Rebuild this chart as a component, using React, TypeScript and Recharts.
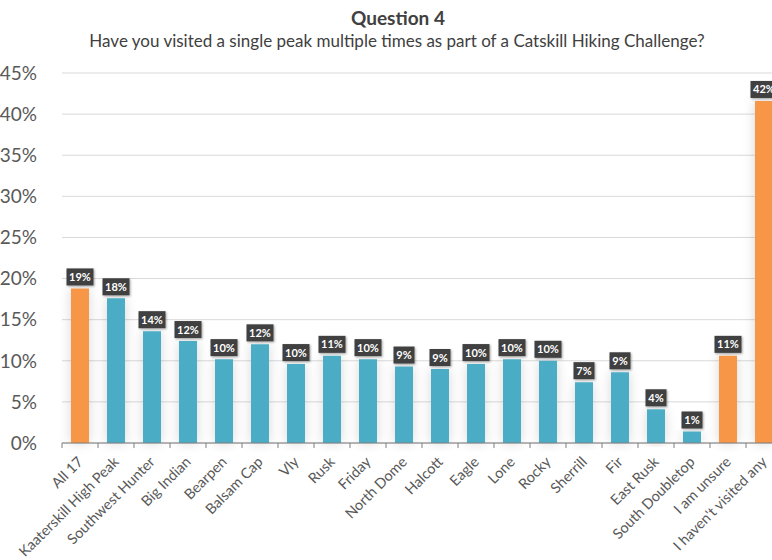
import React from 'react';
import { BarChart, Bar, XAxis, YAxis, CartesianGrid, Cell, LabelList } from 'recharts';

const categories = [
  'All 17', 'Kaaterskill High Peak', 'Southwest Hunter', 'Big Indian', 'Bearpen',
  'Balsam Cap', 'Vly', 'Rusk', 'Friday', 'North Dome', 'Halcott', 'Eagle', 'Lone',
  'Rocky', 'Sherrill', 'Fir', 'East Rusk', 'South Doubletop', 'I am unsure',
  "I haven't visited any",
];
const values = [18.8, 17.6, 13.6, 12.4, 10.2, 12.0, 9.6, 10.6, 10.2, 9.3, 9.0, 9.6, 10.2, 10.0, 7.4, 8.6, 4.1, 1.4, 10.6, 41.6];
const highlighted = ['All 17', 'I am unsure', "I haven't visited any"];
const yTicks = [0, 5, 10, 15, 20, 25, 30, 35, 40, 45];
const title = 'Question 4';
const subtitle = 'Have you visited a single peak multiple times as part of a Catskill Hiking Challenge?';

const data = categories.map((name, i) => ({ name, value: values[i] }));

const FONT = 'Lato, "Open Sans", sans-serif';
const BLUE = '#4BACC6';
const ORANGE = '#F79646';
const CHART_W = 782;
const CHART_H = 560;
const LEFT = 62;
const BAND = (CHART_W - LEFT) / categories.length;

const XTick = (props: any) => {
  const { x, y, payload } = props;
  return (
    <g>
      <line x1={x - BAND / 2} y1={y} x2={x - BAND / 2} y2={y + 5} stroke="#7f7f7f" strokeWidth={1} />
      <g transform={`translate(${x + 1},${y + 17})`}>
        <text x={0} y={0} dy={4} textAnchor="end" transform="rotate(-45)" fill="#595959" fontSize={14.5} fontFamily={FONT}>
          {payload.value}
        </text>
      </g>
    </g>
  );
};

const BoxLabel = (props: any) => {
  const { x, y, width, value } = props;
  const txt = `${Math.round(value)}%`;
  const w = txt.length * 6 + 9;
  const h = 17;
  const cx = x + width / 2;
  const top = y - 3 - h;
  return (
    <g>
      <rect x={cx - w / 2} y={top} width={w} height={h} fill="#404040" filter="url(#boxShadow)" />
      <text x={cx} y={top + h / 2 + 4} textAnchor="middle" fill="#ffffff" fontSize={11} fontWeight="bold" fontFamily={FONT}>
        {txt}
      </text>
    </g>
  );
};

export default function App() {
  return (
    <div style={{ position: 'absolute', left: 0, top: 0, width: 772, height: 560, overflow: 'hidden', background: '#fff' }}>
      <svg width={0} height={0} style={{ position: 'absolute' }}>
        <defs>
          <filter id="barShadow" x="-100%" y="-10%" width="300%" height="120%">
            <feDropShadow dx={0} dy={0} stdDeviation={6} floodColor="#000" floodOpacity={0.16} />
          </filter>
          <filter id="boxShadow" x="-30%" y="-30%" width="160%" height="160%">
            <feDropShadow dx={1} dy={1} stdDeviation={1} floodColor="#000" floodOpacity={0.35} />
          </filter>
        </defs>
      </svg>
      <div style={{ position: 'absolute', left: 0, top: 6, width: 796, textAlign: 'center', fontFamily: FONT, fontWeight: 'bold', fontSize: 19, color: '#404040' }}>
        {title}
      </div>
      <div style={{ position: 'absolute', left: 0, top: 30, width: 794, textAlign: 'center', fontFamily: FONT, fontSize: 17, color: '#404040' }}>
        {subtitle}
      </div>
      <div style={{ position: 'absolute', left: 0, top: 0 }}>
        <BarChart width={CHART_W} height={CHART_H} data={data} margin={{ top: 73, right: 0, bottom: 0, left: 0 }} barSize={18}>
          <CartesianGrid vertical={false} stroke="#d9d9d9" strokeWidth={1} />
          <YAxis
            width={LEFT}
            domain={[0, 45]}
            ticks={yTicks}
            interval={0}
            axisLine={false}
            tickLine={false}
            tickFormatter={(v: number) => `${v}%`}
            tick={{ fill: '#595959', fontSize: 19, fontFamily: FONT }}
            tickMargin={19}
          />
          <XAxis
            dataKey="name"
            interval={0}
            height={CHART_H - 443}
            axisLine={{ stroke: '#7f7f7f', strokeWidth: 1 }}
            tickLine={false}
            tickSize={0}
            tickMargin={0}
            tick={<XTick />}
          />
          <Bar dataKey="value" isAnimationActive={false} filter="url(#barShadow)">
            {data.map((d) => (
              <Cell key={d.name} fill={highlighted.includes(d.name) ? ORANGE : BLUE} />
            ))}
            <LabelList dataKey="value" content={<BoxLabel />} />
          </Bar>
        </BarChart>
      </div>
    </div>
  );
}
